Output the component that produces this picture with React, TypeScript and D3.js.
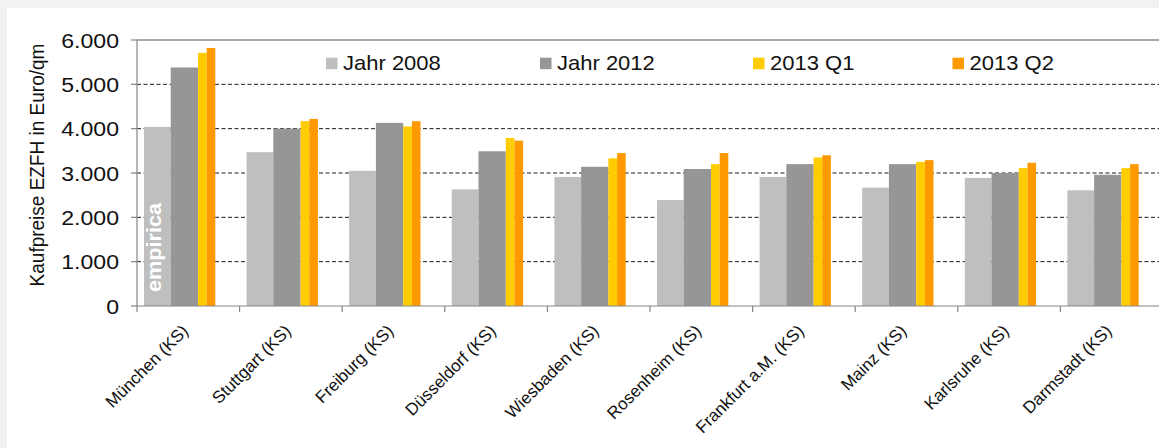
import * as d3 from "d3";

// data
const cities = [
  "München (KS)",
  "Stuttgart (KS)",
  "Freiburg (KS)",
  "Düsseldorf (KS)",
  "Wiesbaden (KS)",
  "Rosenheim (KS)",
  "Frankfurt a.M. (KS)",
  "Mainz (KS)",
  "Karlsruhe (KS)",
  "Darmstadt (KS)",
];
const seriesNames = ["Jahr 2008", "Jahr 2012", "2013 Q1", "2013 Q2"];
const jahr2008 = [4040, 3470, 3050, 2630, 2910, 2390, 2910, 2670, 2890, 2610];
const jahr2012 = [5380, 4000, 4130, 3490, 3140, 3090, 3200, 3200, 3000, 2960];
const q1_2013 = [5710, 4170, 4050, 3790, 3330, 3200, 3350, 3250, 3110, 3110];
const q2_2013 = [5820, 4220, 4170, 3730, 3450, 3450, 3400, 3290, 3230, 3200];
const yTicks = [0, 1000, 2000, 3000, 4000, 5000, 6000];

const series = [jahr2008, jahr2012, q1_2013, q2_2013];
const colors = ["#bfbfbf", "#969696", "#ffcc00", "#ff9900"];

// layout
const W = 1159;
const H = 448;
const left = 137;
const right = 1163;
const top = 40;
const bottom = 306;
const barOffset = [7, 33.7, 61, 69.7];
const barWidth = [26.7, 27.3, 8.7, 8.6];
const legendX = [326, 540, 753, 952.5];
const font = "'Liberation Sans', Arial, sans-serif";
const sx = 1.1; // source image is a bit wider than tall

const fmt = (v: number) => d3.format(",")(v).replace(/,/g, ".");

export default function App() {
  const x = d3.scaleBand<string>().domain(cities).range([left, right]).padding(0);
  const y = d3.scaleLinear().domain([0, 6000]).range([bottom, top]);
  const bounds = d3.range(cities.length + 1).map((i) => left + i * x.step());

  return (
    <svg
      width={W}
      height={H}
      style={{ position: "absolute", left: 0, top: 0 }}
      fontFamily={font}
    >
      <rect x={0} y={0} width={W} height={H} fill="#f2f2f2" />
      <rect x={7} y={8} width={W - 7} height={H - 8} fill="#ffffff" />

      {/* gridlines */}
      {yTicks.slice(1, -1).map((t) => (
        <line
          key={t}
          x1={left}
          x2={W}
          y1={y(t)}
          y2={y(t)}
          stroke="#1a1a1a"
          strokeWidth={1}
          strokeDasharray="4 2.5"
        />
      ))}
      <line x1={left} x2={W} y1={y(6000)} y2={y(6000)} stroke="#555" strokeWidth={1.2} />

      {/* bars */}
      {series.map((vals, si) =>
        cities.map((c, i) => (
          <rect
            key={`${si}-${c}`}
            x={(x(c) as number) + barOffset[si]}
            y={y(vals[i])}
            width={barWidth[si]}
            height={y(0) - y(vals[i])}
            fill={colors[si]}
          />
        ))
      )}

      {/* watermark */}
      <text
        transform={`translate(161,292) scale(${sx},1) rotate(-90)`}
        fill="#ffffff"
        fontWeight="bold"
        fontSize={19}
        textLength={89}
        lengthAdjust="spacingAndGlyphs"
      >
        empirica
      </text>

      {/* y axis */}
      <line x1={left} x2={left} y1={top} y2={bottom} stroke="#868686" strokeWidth={1.2} />
      {yTicks.map((t) => (
        <g key={t}>
          <line x1={left - 6} x2={left} y1={y(t)} y2={y(t)} stroke="#868686" strokeWidth={1.2} />
          <text
            transform={`translate(119,${y(t) + 7.5}) scale(${sx},1)`}
            textAnchor="end"
            fontSize={21}
            fill="#111"
          >
            {fmt(t)}
          </text>
        </g>
      ))}
      <text
        transform={`translate(44,165) scale(${sx},1) rotate(-90)`}
        textAnchor="middle"
        fontSize={19}
        fill="#111"
      >
        Kaufpreise EZFH in Euro/qm
      </text>

      {/* x axis */}
      <line x1={left} x2={W} y1={bottom} y2={bottom} stroke="#868686" strokeWidth={1.2} />
      {bounds.map((b, i) => (
        <line key={i} x1={b} x2={b} y1={bottom} y2={bottom + 6} stroke="#868686" strokeWidth={1.2} />
      ))}
      {cities.map((c) => (
        <text
          key={c}
          transform={`translate(${(x(c) as number) + x.bandwidth() / 2 + 1},332) rotate(-45)`}
          textAnchor="end"
          fontSize={17}
          fill="#111"
        >
          {c}
        </text>
      ))}

      {/* legend */}
      {seriesNames.map((n, i) => (
        <g key={n}>
          <rect x={legendX[i]} y={57.7} width={11.5} height={11.5} fill={colors[i]} />
          <text
            transform={`translate(${legendX[i] + 17},70) scale(${sx},1)`}
            fontSize={20}
            fill="#111"
          >
            {n}
          </text>
        </g>
      ))}
    </svg>
  );
}
